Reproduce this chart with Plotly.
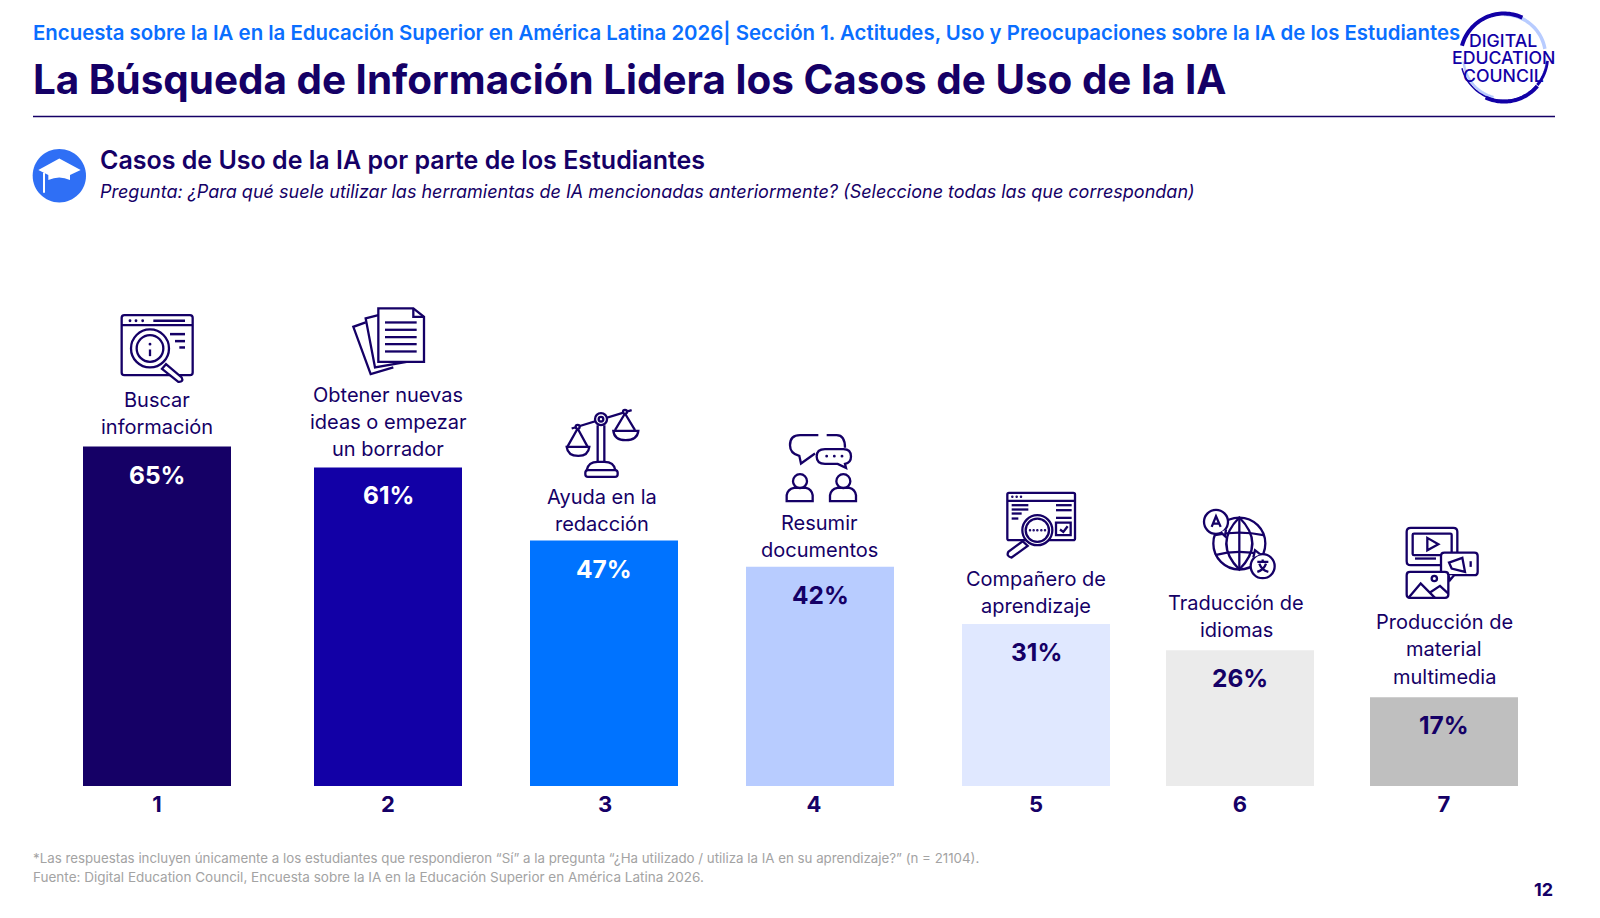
import re
import numpy as np
import plotly.graph_objects as go

categories = [
    "Buscar<br>información",
    "Obtener nuevas<br>ideas o empezar<br>un borrador",
    "Ayuda en la<br>redacción",
    "Resumir<br>documentos",
    "Compañero de<br>aprendizaje",
    "Traducción de<br>idiomas",
    "Producción de<br>material<br>multimedia",
]
values = [65, 61, 47, 42, 31, 26, 17]
ranks = ["1", "2", "3", "4", "5", "6", "7"]
bar_colors = ["#150066", "#1200a6", "#0073ff", "#b8ccff", "#e0e8ff", "#ebebeb", "#bfbfbf"]

# posiciones en pixeles de la pagina
bar_x = [157, 388, 604, 820, 1036, 1240, 1444]
rank_x = [157, 388, 605, 814, 1036, 1240, 1444]
label_x = [157, 388, 602, 820, 1036, 1236, 1444]
label_y = [413, 422, 510, 536, 592, 616, 649]

NAVY = "#150066"
BLUE = "#0a6eff"
GREY = "#a3a3a3"
FONT = "Inter"
W, H = 1600, 918
BASE_Y = 785.7
PX_PER_PCT = 5.22
LINE_GAP = 27.3

fig = go.Figure()
fig.add_trace(go.Bar(
    x=bar_x,
    y=values,
    width=148,
    marker_color=bar_colors,
    marker_line_width=0,
    customdata=[c.replace("<br>", " ") for c in categories],
    hovertemplate="%{customdata}: %{y}%<extra></extra>",
))


def px(x):
    return x / W


def py(y):
    return 1 - y / BASE_Y


def text(x, y, s, size, color=NAVY, weight=400, anchor="left", style="normal", family=FONT):
    if anchor == "left":
        x -= 2  # relleno de la anotacion
    fig.add_annotation(
        x=px(x), y=py(y), xref="paper", yref="paper", text=s, showarrow=False,
        xanchor=anchor, yanchor="middle", align=anchor,
        font=dict(family=family, size=size, color=color, weight=weight, style=style),
    )


def shape(d, ox=0, oy=0, s=1.0, width=2.3, fill=None, color=NAVY):
    toks = re.findall(r"[MLQCZ]|-?[\d.]+", d)
    out, is_x = [], True
    for t in toks:
        if t in "MLQCZ":
            out.append(t)
        elif is_x:
            out.append(f"{px(ox + float(t) * s):.5f}")
            is_x = False
        else:
            out.append(f"{py(oy + float(t) * s):.5f}")
            is_x = True
    fig.add_shape(
        type="path", path=" ".join(out), xref="paper", yref="paper",
        line=dict(color=color, width=width),
        fillcolor=fill if fill else "rgba(0,0,0,0)",
    )


def circle(cx, cy, r):
    k = 0.5523 * r
    return (
        f"M {cx - r} {cy} C {cx - r} {cy - k} {cx - k} {cy - r} {cx} {cy - r} "
        f"C {cx + k} {cy - r} {cx + r} {cy - k} {cx + r} {cy} "
        f"C {cx + r} {cy + k} {cx + k} {cy + r} {cx} {cy + r} "
        f"C {cx - k} {cy + r} {cx - r} {cy + k} {cx - r} {cy} Z"
    )


def rrect(x0, y0, x1, y1, r):
    return (
        f"M {x0 + r} {y0} L {x1 - r} {y0} Q {x1} {y0} {x1} {y0 + r} "
        f"L {x1} {y1 - r} Q {x1} {y1} {x1 - r} {y1} "
        f"L {x0 + r} {y1} Q {x0} {y1} {x0} {y1 - r} "
        f"L {x0} {y0 + r} Q {x0} {y0} {x0 + r} {y0} Z"
    )


def arc(cx, cy, r, a0, a1):
    t = np.radians(np.linspace(a0, a1, 40))
    pts = [f"{cx + r * np.cos(a):.2f} {cy + r * np.sin(a):.2f}" for a in t]
    return "M " + " L ".join(pts)


def icons():
    # 1 buscar informacion
    o = (60, 290, 1 / 3)
    shape(rrect(185, 75, 398, 255, 8), *o)
    shape("M 185 105 L 398 105", *o)
    shape("M 280 92 L 375 92", *o, width=2.5)
    for x in (210, 228, 248):
        shape(circle(x, 92, 2), *o, width=1.5, fill=NAVY)
    for x0, y in ((330, 132), (345, 153), (358, 172)):
        shape(f"M {x0} {y} L 375 {y}", *o, width=2.5)
    shape("M 318 222 L 365 262 Q 372 276 355 275 L 306 236 Z", *o, fill="white")
    shape(circle(270, 175, 57), *o, fill="white")
    shape(circle(270, 175, 40), *o)
    shape(circle(270, 162, 2), *o, width=1.5, fill=NAVY)
    shape("M 270 178 L 270 198", *o)

    # 2 documentos
    shape("M 917 97 L 880 110 L 932 252 L 1000 232", *o)
    shape("M 955 75 L 917 85 L 945 232 L 1040 215", *o)
    shape("M 955 55 L 1060 55 L 1092 80 L 1092 215 L 955 215 Z", *o, fill="white")
    shape("M 1060 55 L 1060 80 L 1092 80", *o)
    for y in (97, 119, 141, 162, 184):
        shape(f"M 975 {y} L 1070 {y}", *o)

    # 3 balanza
    o = (540, 395, 1 / 3)
    shape("M 95 100 L 275 45", *o)
    shape("M 173 90 L 173 200 M 193 90 L 193 200", *o)
    shape(circle(183, 72, 18), *o, fill="white")
    shape(circle(183, 72, 7), *o)
    shape("M 140 225 Q 145 200 173 200 L 193 200 Q 222 200 226 225", *o)
    shape(rrect(136, 225, 233, 245, 8), *o)
    shape(circle(113, 95, 6), *o, fill="white")
    shape(circle(255, 50, 6), *o, fill="white")
    shape("M 113 100 L 82 155 M 113 100 L 143 155", *o)
    shape("M 80 155 L 148 155 Q 145 182 115 182 Q 83 182 80 155 Z", *o)
    shape("M 255 55 L 225 105 M 255 55 L 285 105", *o)
    shape("M 220 107 L 295 107 Q 292 135 257 135 Q 223 135 220 107 Z", *o)

    # 4 conversacion
    shape("M 835 120 L 780 120 Q 750 120 750 150 Q 750 175 778 182 L 783 205 L 825 175", *o)
    shape("M 860 120 L 890 120 Q 915 120 915 158", *o)
    shape("M 855 162 L 910 162 Q 933 162 933 184 Q 933 203 915 206 L 918 218 L 893 206 "
          "L 855 206 Q 830 206 830 184 Q 830 162 855 162 Z", *o, fill="white")
    for x in (860, 883, 906):
        shape(circle(x, 183, 2), *o, width=1.5, fill=NAVY)
    for dx in (0, 130):
        shape(circle(780 + dx, 258, 21), *o)
        shape(f"M {740 + dx} 318 L {818 + dx} 318 L {818 + dx} 300 Q {815 + dx} 282 {798 + dx} 278 "
              f"L {762 + dx} 278 Q {743 + dx} 282 {740 + dx} 300 Z", *o)

    # 5 companero
    o = (980, 480, 1 / 3)
    shape(rrect(82, 38, 285, 180, 5), *o)
    shape("M 82 62 L 285 62", *o)
    for x in (97, 110, 123):
        shape(circle(x, 50, 1.5), *o, width=1.5, fill=NAVY)
    for y, x1 in ((75, 145), (88, 145), (100, 125), (115, 115)):
        shape(f"M 95 {y} L {x1} {y}", *o)
    for y in (75, 90):
        shape(f"M 228 {y} L 275 {y}", *o)
    shape("M 228 113 L 275 113", *o)
    shape("M 228 127 L 272 127 L 272 165 L 228 165 Z", *o)
    shape("M 240 148 L 250 155 L 263 138", *o)
    shape("M 128 183 L 85 215 Q 78 228 95 232 L 143 197 Z", *o, fill="white")
    shape(circle(172, 150, 45), *o, fill="white")
    shape(circle(172, 150, 35), *o)
    for x in (150, 161, 172, 184, 195):
        shape(circle(x, 150, 1.5), *o, width=1.5, fill=NAVY)

    # 6 globo
    shape(circle(778, 190, 78), *o)
    shape("M 778 112 Q 700 190 778 268 Q 856 190 778 112 Z", *o)
    shape("M 778 112 L 778 268", *o)
    shape("M 705 165 Q 778 150 850 165 M 705 225 Q 778 205 850 225", *o)
    shape(circle(708, 125, 36), *o, fill="white")
    shape("M 722 156 L 735 168 L 738 148", *o, fill="white")
    shape("M 695 140 L 708 108 L 722 140 M 700 130 L 717 130", *o)
    shape(circle(848, 258, 36), *o, fill="white")
    shape("M 820 232 L 825 210 L 840 222", *o, fill="white")
    shape("M 848 238 L 848 245 M 832 245 L 865 245 M 838 250 Q 845 270 865 275 M 858 250 Q 852 268 832 275", *o)

    # 7 multimedia
    o = (1380, 515, 1 / 3)
    shape(rrect(80, 38, 232, 150, 12), *o)
    shape(rrect(98, 55, 215, 120, 4), *o)
    shape("M 142 68 L 175 87 L 142 105 Z", *o)
    shape("M 105 130 L 168 130", *o)
    shape(rrect(183, 112, 293, 180, 10), *o, fill="white")
    shape("M 205 180 L 210 195 L 222 180", *o, fill="white")
    shape("M 207 142 L 247 128 L 255 170 L 215 160 Z", *o)
    shape("M 272 138 L 272 155", *o)
    shape(rrect(80, 170, 205, 248, 10), *o, fill="white")
    shape(circle(163, 190, 8), *o)
    shape("M 85 248 L 122 205 L 165 248 M 150 232 L 180 212 L 205 235", *o)


def header():
    # birrete
    o = (20, 140, 1 / 3)
    shape(circle(118, 107, 80), *o, width=0, fill="#2f6ff5", color="#2f6ff5")
    shape("M 55 90 L 118 55 L 182 90 L 150 105 L 150 120 Q 118 105 85 120 L 85 105 Z",
          *o, width=0, fill="white", color="white")
    shape("M 72 98 L 72 158", *o, width=2, color="white")

    # logo
    cx, cy, r = 1504, 57, 43.5
    shape(arc(cx, cy - 1, r - 2, 270, 350), width=3.5, color="#b8ccff")
    shape(arc(cx, cy + 1, r - 3, 105, 175), width=2.5, color="#b8ccff")
    shape(arc(cx, cy, r, 60, 165), width=1.5, color="#1200a6")
    shape(arc(cx, cy, r, 195, 295), width=4, color="#1200a6")
    shape(arc(cx, cy + 1, r, 40, 115), width=4, color="#1200a6")
    shape(arc(cx, cy, r, 5, 40), width=3, color="#1200a6")
    text(1503, 40, "DIGITAL", 17.7, color="#1200a6", anchor="center", weight=500)
    text(1503, 57.5, "EDUCATION", 17.7, color="#1200a6", anchor="center", weight=500)
    text(1503, 75, "COUNCIL", 17.7, color="#1200a6", anchor="center", weight=500)


text(33, 32, "Encuesta sobre la IA en la Educación Superior en América Latina 2026| "
     "Sección 1. Actitudes, Uso y Preocupaciones sobre la IA de los Estudiantes",
     20.4, color=BLUE, weight=600)
text(33, 79, "La Búsqueda de Información Lidera los Casos de Uso de la IA", 40.4, weight=700)
fig.add_shape(type="line", xref="paper", yref="paper", x0=px(33), x1=px(1555), y0=py(116.5), y1=py(116.5),
              line=dict(color=NAVY, width=1.5))
text(99.5, 160, "Casos de Uso de la IA por parte de los Estudiantes", 25, weight=600)
text(99.5, 191, "Pregunta: ¿Para qué suele utilizar las herramientas de IA mencionadas anteriormente? "
     "(Seleccione todas las que correspondan)", 18, style="italic")

for x, y, c in zip(label_x, label_y, categories):
    lines = c.split("<br>")
    for j, line in enumerate(lines):
        text(x, y + (j - (len(lines) - 1) / 2) * LINE_GAP, line, 20, anchor="center")

for i, v in enumerate(values):
    fig.add_annotation(
        x=bar_x[i], y=v, text=f"{v}%", showarrow=False, yshift=-28, yanchor="middle",
        font=dict(family=FONT, size=24.5, weight=700, color="white" if i < 3 else NAVY),
    )

text(33, 858, "*Las respuestas incluyen únicamente a los estudiantes que respondieron “Sí” a la pregunta "
     "“¿Ha utilizado / utiliza la IA en su aprendizaje?” (n = 21104).", 13.3, color=GREY)
text(33, 877, "Fuente: Digital Education Council, Encuesta sobre la IA en la Educación Superior en "
     "América Latina 2026.", 13.5, color=GREY)
text(1543, 889, "12", 18, weight=700, anchor="center")

icons()
header()

fig.update_layout(
    width=W,
    height=H,
    margin=dict(l=0, r=0, t=0, b=H - BASE_Y),
    paper_bgcolor="white",
    plot_bgcolor="white",
    showlegend=False,
    font=dict(family=FONT, color=NAVY),
    xaxis=dict(
        range=[0, W],
        tickmode="array",
        tickvals=rank_x,
        ticktext=ranks,
        showgrid=False,
        zeroline=False,
        showline=False,
        ticks="",
        ticklabelstandoff=3,
        tickfont=dict(family=FONT, size=22, weight=700, color=NAVY),
    ),
    yaxis=dict(range=[0, BASE_Y / PX_PER_PCT], visible=False),
)

fig.write_html(
    "out.html",
    config={"displayModeBar": False},
    post_script="document.body.style.margin='0';document.body.style.overflow='hidden';",
)
